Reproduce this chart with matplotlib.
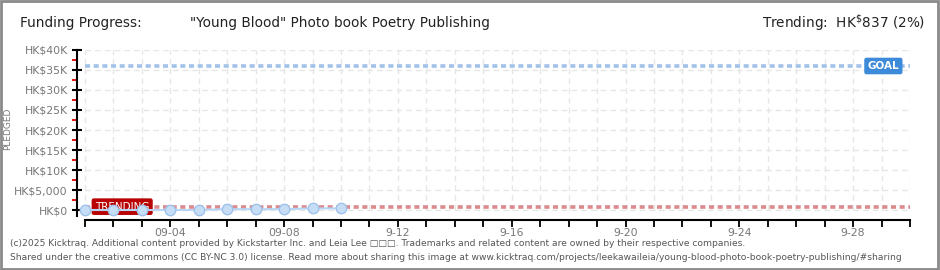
import matplotlib
matplotlib.use("Agg")
import matplotlib.pyplot as plt
from matplotlib.patches import Rectangle

# data
days = [1, 2, 3, 4, 5, 6, 7, 8, 9, 10]
pledged = [0, 0, 0, 0, 0, 200, 200, 200, 400, 400]
goal = 36000
trending = 837
yticks = [0, 5000, 10000, 15000, 20000, 25000, 30000, 35000, 40000]
ytick_labels = ["HK$0", "HK$5,000", "HK$10K", "HK$15K", "HK$20K",
                "HK$25K", "HK$30K", "HK$35K", "HK$40K"]
xticks = [4, 8, 12, 16, 20, 24, 28]
xtick_labels = ["09-04", "09-08", "9-12", "9-16", "9-20", "9-24", "9-28"]
first_day = 1
last_day = 30

W, H = 940, 270
fig = plt.figure(figsize=(W / 100, H / 100), dpi=100)
fig.patch.set_facecolor("white")

# outer grey frame
fig.patches.append(Rectangle((0.001, 0.002), 0.997, 0.995, transform=fig.transFigure,
                             fill=False, edgecolor="#8a8a8a", linewidth=2))

ax = fig.add_axes([77 / W, 50 / H, (910 - 77) / W, 170 / H])
ax.set_xlim(first_day - 0.28, last_day)
ax.set_ylim(-2500, 40000)

for s in ["top", "right"]:
    ax.spines[s].set_visible(False)
ax.spines["bottom"].set_bounds(first_day, last_day)
ax.spines["left"].set_bounds(-1500, 40000)
ax.spines["left"].set_linewidth(1.5)
ax.spines["bottom"].set_linewidth(1.5)

# grid
for d in range(first_day, last_day + 1):
    ax.plot([d, d], [0, 40000], color="#e6e6e6", lw=1, ls=(0, (4, 3)), zorder=0)
for y in yticks:
    ax.plot([first_day, last_day], [y, y], color="#e6e6e6", lw=1, ls=(0, (4, 3)), zorder=0)

# ticks
ax.set_yticks(yticks)
ax.set_yticklabels(ytick_labels)
ax.set_yticks([y + 2500 for y in yticks[:-1]], minor=True)
ax.tick_params(axis="y", which="major", direction="inout", length=7, width=1.5,
               colors="black", labelcolor="#777777", labelsize=7.8, pad=3)
ax.tick_params(axis="y", which="minor", direction="out", length=3.5, width=1.3,
               colors="#e00000")
ax.set_xticks(range(first_day, last_day + 1))
ax.set_xticklabels([xtick_labels[xticks.index(d)] if d in xticks else "" for d in range(first_day, last_day + 1)])
ax.tick_params(axis="x", direction="out", length=5, width=1.3, colors="black",
               labelcolor="#777777", labelsize=7.8, pad=1)

# goal and trending lines
ax.plot([first_day, last_day], [goal, goal], color="#a4c2e8", lw=2.6,
        ls=(0, (1.4, 1.0)), zorder=2)
ax.plot([first_day, last_day], [trending, trending], color="#db8a8e", lw=2.6,
        ls=(0, (1.4, 1.0)), zorder=2)

# pledged series
ax.plot(days, pledged, color="#b7d6f5", lw=1.5, marker="o", markersize=7.5,
        markerfacecolor="#c6ddf6", markeredgecolor="#9fc2ea", markeredgewidth=1,
        zorder=4, clip_on=False)

# labels on the lines
ax.text(29.62, goal, "GOAL", color="white", fontsize=7.5, fontweight="bold",
        ha="right", va="center", zorder=5,
        bbox=dict(boxstyle="round,pad=0.25,rounding_size=0.15", fc="#3c8ad9", ec="#3c8ad9"))
ax.text(1.35, trending, "TRENDING", color="white", fontsize=7.5,
        ha="left", va="center", zorder=3,
        bbox=dict(boxstyle="round,pad=0.25,rounding_size=0.15", fc="#b80000", ec="#b80000"))

fig.text(8 / W, 1 - 129 / H, "PLEDGED", rotation=90, color="#777777",
         fontsize=6.5, ha="center", va="center")

# header
fig.text(20 / W, 1 - 23 / H, "Funding Progress:", fontsize=9.8, color="#222222",
         va="center", ha="left")
fig.text(190 / W, 1 - 23 / H, "\"Young Blood\" Photo book Poetry Publishing", fontsize=9.8,
         color="#222222", va="center", ha="left")
fig.text(925 / W, 1 - 23 / H, r"Trending:  HK$^{\$}$837 (2%)", fontsize=9.8,
         color="#222222", va="center", ha="right")

# footer
fig.text(10 / W, 1 - 243 / H,
         "(c)2025 Kicktraq. Additional content provided by Kickstarter Inc. and Leia Lee \u25a1\u25a1\u25a1. "
         "Trademarks and related content are owned by their respective companies.",
         fontsize=6.6, color="#555555", va="center", ha="left")
fig.text(10 / W, 1 - 257 / H,
         "Shared under the creative commons (CC BY-NC 3.0) license. Read more about sharing this image at "
         "www.kicktraq.com/projects/leekawaileia/young-blood-photo-book-poetry-publishing/#sharing",
         fontsize=6.6, color="#555555", va="center", ha="left")

fig.savefig("out.png", dpi=100)
